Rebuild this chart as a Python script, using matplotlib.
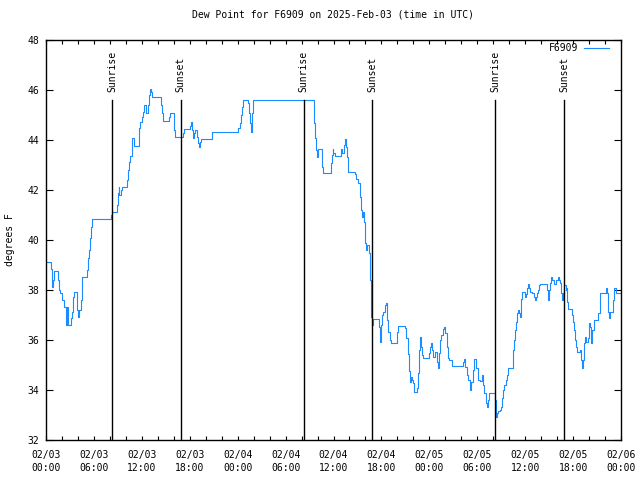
import matplotlib
matplotlib.use("Agg")
import matplotlib.pyplot as plt

# ---------- Datos ----------
# horas desde 2025-02-03 00:00 UTC
hours = [
    0.0, 0.59, 0.75, 0.84, 1.0, 1.46, 1.55, 1.67, 1.76, 1.97, 2.3, 2.45, 2.59, 2.8,
    3.14, 3.3, 3.43, 3.55, 3.93, 4.06, 4.18, 4.35, 4.48, 4.56, 5.1, 5.23, 5.4, 5.52,
    5.65, 5.81, 8.16, 8.32, 8.91, 9.03, 9.12, 9.2, 9.33, 9.5, 10.16, 10.29, 10.41,
    10.58, 10.71, 10.83, 10.96, 11.04, 11.67, 11.79, 12.0, 12.17, 12.3, 12.46, 12.55,
    12.75, 12.92, 13.05, 13.09, 13.26, 14.43, 14.52, 14.6, 15.43, 15.56, 15.97,
    16.06, 16.14, 17.15, 17.31, 17.98, 18.15, 18.28, 18.36, 18.4, 18.48, 18.61,
    18.95, 19.07, 19.16, 19.24, 19.41, 20.74, 20.83, 24.05, 24.26, 24.38, 24.51,
    24.63, 25.31, 25.43, 25.51, 25.68, 25.76, 25.89,
    33.54, 33.67, 33.79, 33.92, 34.05, 34.5, 34.59, 34.67, 35.72, 35.8, 35.88,
    35.97, 36.17, 36.97, 37.1, 37.31, 37.48, 37.6, 37.73, 37.85, 38.69, 38.86, 39.1,
    39.27, 39.4, 39.52, 39.65, 39.81, 39.94, 40.06, 40.23, 40.4, 40.53,
    40.65, 40.74, 40.86, 40.95, 41.69, 41.82, 41.95, 42.07, 42.2, 42.41, 42.54,
    42.66, 42.75, 42.87, 43.04, 43.16, 43.91, 44.0, 44.12, 44.96, 45.13, 45.3,
    45.46, 45.59, 45.71, 45.8, 45.92, 46.05, 46.47, 46.59, 46.72, 46.84, 46.97,
    47.14, 47.26, 47.93, 48.1, 48.27, 48.39, 48.52, 48.68, 48.93, 49.1, 49.22,
    49.35, 49.52, 49.69, 49.81, 50.02, 50.15, 50.31, 50.52, 50.82, 52.2, 52.32,
    52.41, 52.66, 52.87, 53.07, 53.2, 53.49, 53.62, 53.83, 54.04, 54.37, 54.54,
    54.67, 54.83, 55.04, 55.17, 55.29, 55.5,
    56.21, 56.29, 56.37, 56.5, 56.62, 56.8, 56.96, 57.13, 57.25, 57.38, 57.59,
    57.72, 57.84, 58.43, 58.51, 58.63, 58.76, 58.88, 59.01, 59.13, 59.22, 59.35,
    59.43, 59.51, 59.64, 60.01, 60.14, 60.26, 60.39, 60.51, 60.6, 60.81, 61.06,
    61.19, 61.36, 61.48, 61.65, 61.77, 61.9, 62.74, 62.86, 62.99, 63.11, 63.28,
    63.41, 63.57, 63.91, 64.07, 64.24, 64.37, 64.49, 64.66, 64.78, 64.91, 65.12,
    65.24, 65.28, 65.41, 65.87, 66.0, 66.12, 66.25, 66.37, 66.5, 66.83, 66.96,
    67.17, 67.25, 67.42, 67.55, 67.67, 67.84, 68.0, 68.13, 68.26, 68.38, 68.67,
    69.18, 69.39, 70.14, 70.26, 70.39, 70.51, 70.68, 71.02, 71.18, 71.39, 72.0,
]

dew_point = [
    39.1, 38.85, 38.1, 38.4, 38.77, 38.5, 38.4, 38.0, 37.87, 37.6, 37.33, 36.6, 37.33, 36.6,
    36.87, 37.13, 37.73, 37.91, 37.2, 36.93, 37.2, 37.6, 38.24, 38.53, 38.8, 39.27, 39.6, 40.07,
    40.53, 40.83, 41.0, 41.13, 41.4, 41.87, 42.11, 41.8, 42.0, 42.11, 42.4, 42.8, 43.13,
    43.36, 43.87, 44.07, 43.93, 43.76, 44.47, 44.73, 44.93, 45.13, 45.4, 45.27, 45.07,
    45.4, 45.8, 46.03, 45.93, 45.73, 45.4, 45.07, 44.76, 44.93, 45.07, 44.8,
    44.4, 44.11, 44.27, 44.43, 44.56, 44.73, 44.4, 44.2, 44.07, 44.27, 44.4,
    44.13, 43.87, 43.73, 43.93, 44.03, 44.2, 44.33, 44.47, 44.67, 45.0, 45.33,
    45.6, 45.47, 45.07, 44.67, 44.33, 45.07, 45.6,
    44.67, 44.07, 43.6, 43.33, 43.63, 43.33, 42.93, 42.67, 43.07, 43.4, 43.63,
    43.47, 43.36, 43.63, 43.47, 43.8, 44.03, 43.73, 43.33, 42.73, 42.63, 42.43, 42.27,
    41.73, 41.2, 40.93, 41.13, 40.73, 39.87, 39.6, 39.8, 39.47, 38.4,
    37.57, 36.93, 36.6, 36.83, 36.53, 35.93, 36.6, 37.0, 37.13, 37.4, 37.49,
    37.27, 36.8, 36.33, 36.0, 35.87, 36.13, 36.33, 36.56, 36.47, 36.07, 35.44,
    34.77, 34.33, 34.53, 34.4, 34.27, 33.93, 34.07, 34.67, 35.6, 36.13, 35.73,
    35.4, 35.27, 35.47, 35.73, 35.89, 35.6, 35.33, 35.53, 35.13, 34.87, 35.47,
    36.0, 36.2, 36.43, 36.53, 36.27, 35.73, 35.27, 35.2, 34.96, 35.13, 35.24,
    34.93, 34.6, 34.4, 34.0, 34.33, 34.8, 35.24, 34.87, 34.4, 34.36, 34.6,
    34.2, 33.87, 33.47, 33.33, 33.6, 33.87,
    33.6, 33.17, 32.93, 33.07, 33.17, 33.2, 33.33, 33.67, 34.0, 34.2, 34.4,
    34.6, 34.87, 35.13, 35.6, 36.0, 36.4, 36.73, 37.07, 37.2, 37.07, 36.93,
    37.2, 37.63, 37.91, 37.73, 37.83, 38.07, 38.24, 38.07, 37.93, 37.87, 37.73,
    37.6, 37.73, 37.87, 38.0, 38.2, 38.24, 38.0, 37.6, 38.0, 38.27, 38.53,
    38.4, 38.24, 38.4, 38.53, 38.4, 38.27, 37.87, 37.6, 37.87, 38.2, 38.0,
    38.07, 37.53, 37.23, 37.0, 36.73, 36.4, 36.0, 35.73, 35.53, 35.6, 35.2,
    34.87, 35.2, 35.87, 36.13, 35.93, 36.07, 36.67, 36.53, 35.87, 36.4, 36.8,
    37.07, 37.87, 38.07, 37.87, 37.13, 36.87, 37.13, 37.6, 38.07, 37.87, 37.84,
]

sun_events = ["Sunrise", "Sunset", "Sunrise", "Sunset", "Sunrise", "Sunset"]
sun_hours = [8.3, 16.85, 32.28, 40.85, 56.24, 64.88]

tick_hours = [0, 6, 12, 18, 24, 30, 36, 42, 48, 54, 60, 66, 72]
tick_labels = [
    "02/03\n00:00", "02/03\n06:00", "02/03\n12:00", "02/03\n18:00",
    "02/04\n00:00", "02/04\n06:00", "02/04\n12:00", "02/04\n18:00",
    "02/05\n00:00", "02/05\n06:00", "02/05\n12:00", "02/05\n18:00",
    "02/06\n00:00",
]

# ---------- Gráfica ----------
plt.rcParams["font.family"] = ["DejaVu Sans Mono"]
plt.rcParams["font.size"] = 7

fig = plt.figure(figsize=(6.4, 4.8), dpi=100)
ax = fig.add_axes([46 / 640, 40 / 480, 575 / 640, 400 / 480])

ax.step(hours, dew_point, where="post", color="#1a8cff", linewidth=0.8, label="F6909")

for name, h in zip(sun_events, sun_hours):
    ax.axvline(h, ymin=0, ymax=0.85, color="black", linewidth=1.0)
    ax.text(h, 0.87, name, transform=ax.get_xaxis_transform(), rotation=90,
            ha="center", va="bottom", fontsize=7)

ax.set_xlim(0, 72)
ax.set_ylim(32, 48)
ax.set_xticks(tick_hours)
ax.set_xticklabels(tick_labels, linespacing=1.35)
ax.set_xticks(range(0, 73, 2), minor=True)
ax.set_yticks(range(32, 49, 2))

ax.tick_params(axis="x", which="both", direction="in", length=3, width=0.8,
               top=True, pad=7)
ax.tick_params(axis="y", which="both", direction="in", length=5, width=0.8,
               right=True, pad=5)
for s in ax.spines.values():
    s.set_linewidth(1.0)

ax.set_title("Dew Point for F6909 on 2025-Feb-03 (time in UTC)", fontsize=7, pad=16)
ax.set_ylabel("degrees F")
ax.yaxis.set_label_coords(-31 / 575, 0.5)

ax.legend(loc="upper right", bbox_to_anchor=(0.985, 1.0), frameon=False,
          markerfirst=False, handlelength=2.6, borderpad=0.3, borderaxespad=0,
          handletextpad=0.6)

fig.savefig("out.png", dpi=100)
